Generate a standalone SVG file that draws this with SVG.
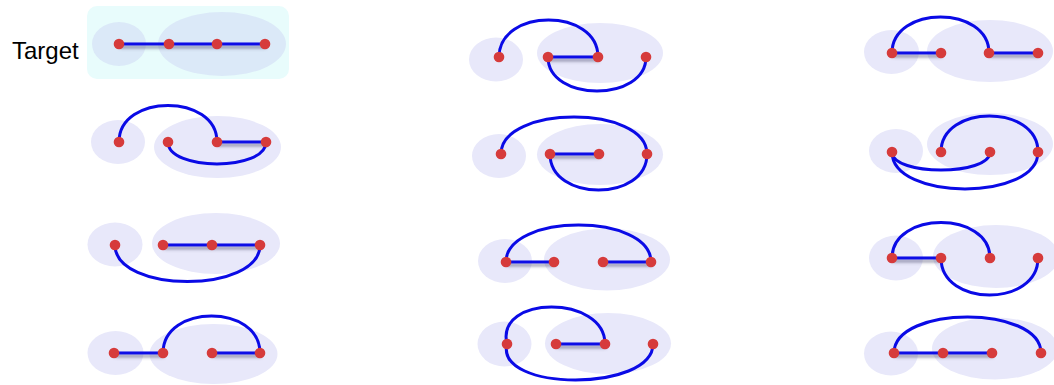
<svg xmlns="http://www.w3.org/2000/svg" width="1054" height="385" viewBox="0 0 1054 385">
<defs>
<filter id="sh" filterUnits="userSpaceOnUse" x="0" y="0" width="1054" height="385">
<feDropShadow dx="1" dy="3" stdDeviation="1.6" flood-color="#505070" flood-opacity="0.55"/>
</filter>
<style>
.reg{fill:#e8e8fa}
.treg{fill:#dbe9f8}
.ln{stroke:#0a0ae6;stroke-width:3;fill:none;filter:url(#sh)}
.arc{stroke:#0a0ae6;stroke-width:3;fill:none}
.dot{fill:#d63b3b}
.lbl{font-family:"Liberation Sans",Arial,sans-serif;font-size:24px;fill:#000}
</style>
</defs>
<rect width="1054" height="385" fill="#ffffff"/>

<!-- Target -->
<g id="target">
<text class="lbl" x="12" y="59">Target</text>
<rect x="87" y="6" width="202" height="73" rx="10" fill="#e8fcfc"/>
<ellipse class="treg" cx="119" cy="44" rx="27" ry="22"/>
<ellipse class="treg" cx="222" cy="44" rx="64" ry="32"/>
<g id="target-edges"><line class="ln" x1="119" y1="44" x2="169" y2="44"/><line class="ln" x1="169" y1="44" x2="217" y2="44"/><line class="ln" x1="217" y1="44" x2="265" y2="44"/></g>
<g id="target-n1"><circle class="dot" cx="119" cy="44" r="5.3"/></g>
<g id="target-n2"><circle class="dot" cx="169" cy="44" r="5.3"/></g>
<g id="target-n3"><circle class="dot" cx="217" cy="44" r="5.3"/></g>
<g id="target-n4"><circle class="dot" cx="265" cy="44" r="5.3"/></g>
</g>

<!-- A -->
<g id="pA">
<ellipse class="reg" cx="496" cy="59.5" rx="27" ry="22"/>
<ellipse class="reg" cx="600" cy="53" rx="63" ry="30"/>
<g id="pA-edges"><line class="ln" x1="548" y1="57" x2="598" y2="57"/>
<path class="arc" d="M499 57 C499 7.7 598 7.7 598 57"/>
<path class="arc" d="M548 57 C548 102.3 646 102.3 646 57"/></g>
<g id="pA-n1"><circle class="dot" cx="499" cy="57" r="5.3"/></g>
<g id="pA-n2"><circle class="dot" cx="548" cy="57" r="5.3"/></g>
<g id="pA-n3"><circle class="dot" cx="598" cy="57" r="5.3"/></g>
<g id="pA-n4"><circle class="dot" cx="646" cy="57" r="5.3"/></g>
</g>

<!-- B -->
<g id="pB">
<ellipse class="reg" cx="891.5" cy="52" rx="27.5" ry="22"/>
<ellipse class="reg" cx="990" cy="51" rx="63" ry="31"/>
<g id="pB-edges"><line class="ln" x1="892" y1="53" x2="941" y2="53"/><line class="ln" x1="989" y1="53" x2="1038" y2="53"/>
<path class="arc" d="M892 53 C892 5 989 5 989 53"/></g>
<g id="pB-n1"><circle class="dot" cx="892" cy="53" r="5.3"/></g>
<g id="pB-n2"><circle class="dot" cx="941" cy="53" r="5.3"/></g>
<g id="pB-n3"><circle class="dot" cx="989" cy="53" r="5.3"/></g>
<g id="pB-n4"><circle class="dot" cx="1038" cy="53" r="5.3"/></g>
</g>

<!-- C -->
<g id="pC">
<ellipse class="reg" cx="118" cy="142" rx="27" ry="22"/>
<ellipse class="reg" cx="217.5" cy="147" rx="63.5" ry="31"/>
<g id="pC-edges"><line class="ln" x1="217" y1="142" x2="266" y2="142"/>
<path class="arc" d="M119 142 C119 93.3 217 93.3 217 142"/>
<path class="arc" d="M168 142 C168 171.3 266 171.3 266 142"/></g>
<g id="pC-n1"><circle class="dot" cx="119" cy="142" r="5.3"/></g>
<g id="pC-n2"><circle class="dot" cx="168" cy="142" r="5.3"/></g>
<g id="pC-n3"><circle class="dot" cx="217" cy="142" r="5.3"/></g>
<g id="pC-n4"><circle class="dot" cx="266" cy="142" r="5.3"/></g>
</g>

<!-- D -->
<g id="pD">
<ellipse class="reg" cx="499" cy="156" rx="27" ry="22"/>
<ellipse class="reg" cx="600" cy="154.5" rx="63" ry="30.5"/>
<g id="pD-edges"><line class="ln" x1="550" y1="154" x2="599" y2="154"/>
<path class="arc" d="M501 154 C501 104.7 647 104.7 647 154"/>
<path class="arc" d="M550 154 C550 202 647 202 647 154"/></g>
<g id="pD-n1"><circle class="dot" cx="501" cy="154" r="5.3"/></g>
<g id="pD-n2"><circle class="dot" cx="550" cy="154" r="5.3"/></g>
<g id="pD-n3"><circle class="dot" cx="599" cy="154" r="5.3"/></g>
<g id="pD-n4"><circle class="dot" cx="647" cy="154" r="5.3"/></g>
</g>

<!-- E -->
<g id="pE">
<ellipse class="reg" cx="896" cy="151" rx="27" ry="22"/>
<ellipse class="reg" cx="990" cy="144" rx="63" ry="31"/>
<g id="pE-edges">
<path class="arc" d="M941 152 C941 104 1038 104 1038 152"/>
<path class="arc" d="M892 152 C892 176 990 176 990 152"/>
<path class="arc" d="M892 152 C892 201.3 1038 201.3 1038 152"/></g>
<g id="pE-n1"><circle class="dot" cx="892" cy="152" r="5.3"/></g>
<g id="pE-n2"><circle class="dot" cx="941" cy="152" r="5.3"/></g>
<g id="pE-n3"><circle class="dot" cx="990" cy="152" r="5.3"/></g>
<g id="pE-n4"><circle class="dot" cx="1038" cy="152" r="5.3"/></g>
</g>

<!-- F -->
<g id="pF">
<ellipse class="reg" cx="115" cy="244.5" rx="27.5" ry="22"/>
<ellipse class="reg" cx="216" cy="243.5" rx="64" ry="30.5"/>
<g id="pF-edges"><line class="ln" x1="163" y1="245" x2="212" y2="245"/><line class="ln" x1="212" y1="245" x2="260" y2="245"/>
<path class="arc" d="M115 245 C115 293.7 260 293.7 260 245"/></g>
<g id="pF-n1"><circle class="dot" cx="115" cy="245" r="5.3"/></g>
<g id="pF-n2"><circle class="dot" cx="163" cy="245" r="5.3"/></g>
<g id="pF-n3"><circle class="dot" cx="212" cy="245" r="5.3"/></g>
<g id="pF-n4"><circle class="dot" cx="260" cy="245" r="5.3"/></g>
</g>

<!-- G -->
<g id="pG">
<ellipse class="reg" cx="505" cy="261" rx="27" ry="22"/>
<ellipse class="reg" cx="607" cy="259.5" rx="63" ry="31"/>
<g id="pG-edges"><line class="ln" x1="506" y1="262" x2="554" y2="262"/><line class="ln" x1="603" y1="262" x2="651" y2="262"/>
<path class="arc" d="M506 262 C506 212.7 651 212.7 651 262"/></g>
<g id="pG-n1"><circle class="dot" cx="506" cy="262" r="5.3"/></g>
<g id="pG-n2"><circle class="dot" cx="554" cy="262" r="5.3"/></g>
<g id="pG-n3"><circle class="dot" cx="603" cy="262" r="5.3"/></g>
<g id="pG-n4"><circle class="dot" cx="651" cy="262" r="5.3"/></g>
</g>

<!-- H -->
<g id="pH">
<ellipse class="reg" cx="896" cy="258" rx="27" ry="22.5"/>
<ellipse class="reg" cx="996" cy="256.5" rx="63" ry="31.5"/>
<g id="pH-edges"><line class="ln" x1="892" y1="258" x2="941" y2="258"/>
<path class="arc" d="M892 258 C892 210.7 990 210.7 990 258"/>
<path class="arc" d="M941 258 C941 307.3 1038 307.3 1038 258"/></g>
<g id="pH-n1"><circle class="dot" cx="892" cy="258" r="5.3"/></g>
<g id="pH-n2"><circle class="dot" cx="941" cy="258" r="5.3"/></g>
<g id="pH-n3"><circle class="dot" cx="990" cy="258" r="5.3"/></g>
<g id="pH-n4"><circle class="dot" cx="1038" cy="258" r="5.3"/></g>
</g>

<!-- I -->
<g id="pI">
<ellipse class="reg" cx="115.5" cy="353" rx="28" ry="22"/>
<ellipse class="reg" cx="213.5" cy="354" rx="64" ry="30"/>
<g id="pI-edges"><line class="ln" x1="114" y1="353" x2="163" y2="353"/><line class="ln" x1="212" y1="353" x2="260" y2="353"/>
<path class="arc" d="M163 353 C163 303.7 260 303.7 260 353"/></g>
<g id="pI-n1"><circle class="dot" cx="114" cy="353" r="5.3"/></g>
<g id="pI-n2"><circle class="dot" cx="163" cy="353" r="5.3"/></g>
<g id="pI-n3"><circle class="dot" cx="212" cy="353" r="5.3"/></g>
<g id="pI-n4"><circle class="dot" cx="260" cy="353" r="5.3"/></g>
</g>

<!-- J -->
<g id="pJ">
<ellipse class="reg" cx="504.5" cy="344" rx="27" ry="22.5"/>
<ellipse class="reg" cx="608" cy="343.5" rx="63" ry="30.5"/>
<g id="pJ-edges"><line class="ln" x1="556" y1="344" x2="605" y2="344"/>
<path class="arc" d="M507 344 C495 294.7 605 294.7 605 344"/>
<path class="arc" d="M507 344 C495 392 653 392 653 344"/></g>
<g id="pJ-n1"><circle class="dot" cx="507" cy="344" r="5.3"/></g>
<g id="pJ-n2"><circle class="dot" cx="556" cy="344" r="5.3"/></g>
<g id="pJ-n3"><circle class="dot" cx="605" cy="344" r="5.3"/></g>
<g id="pJ-n4"><circle class="dot" cx="653" cy="344" r="5.3"/></g>
</g>

<!-- K -->
<g id="pK">
<ellipse class="reg" cx="891" cy="353.5" rx="27" ry="22"/>
<ellipse class="reg" cx="995" cy="348.5" rx="63" ry="31"/>
<g id="pK-edges"><line class="ln" x1="894" y1="353" x2="943" y2="353"/><line class="ln" x1="943" y1="353" x2="992" y2="353"/>
<path class="arc" d="M894 353 C894 305 1041 305 1041 353"/></g>
<g id="pK-n1"><circle class="dot" cx="894" cy="353" r="5.3"/></g>
<g id="pK-n2"><circle class="dot" cx="943" cy="353" r="5.3"/></g>
<g id="pK-n3"><circle class="dot" cx="992" cy="353" r="5.3"/></g>
<g id="pK-n4"><circle class="dot" cx="1041" cy="353" r="5.3"/></g>
</g>
</svg>
